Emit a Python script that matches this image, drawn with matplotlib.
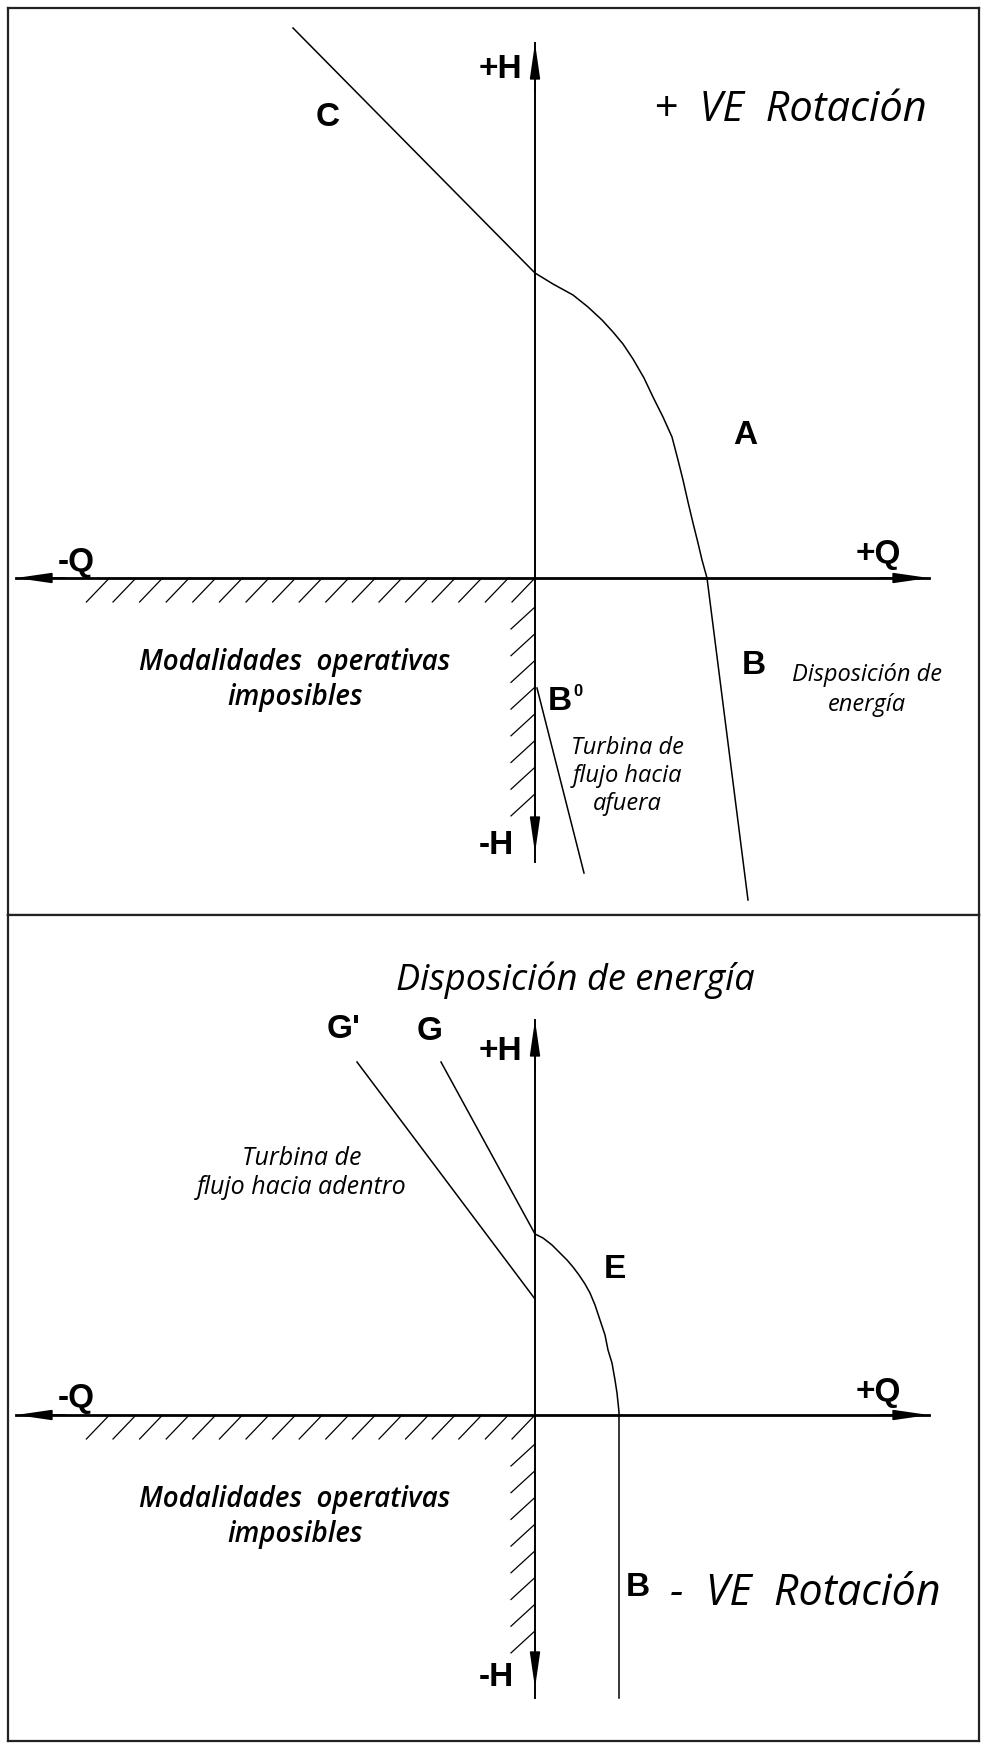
import numpy as np
import matplotlib
matplotlib.use('Agg')
import matplotlib.pyplot as plt

# Characteristic curves, in (Q, H) units with the origin at the axes crossing
# top panel: curve C - A - B (positive rotation)
top_q = [-2.42, 0.00, 0.18, 0.38, 0.53, 0.67, 0.78, 0.88, 0.98, 1.09, 1.18, 1.28, 1.37,
         1.43, 1.48, 1.53, 1.58, 1.63, 1.67, 1.72, 2.13]
top_h = [5.50, 3.05, 2.94, 2.83, 2.71, 2.58, 2.46, 2.34, 2.19, 2.00, 1.81, 1.61, 1.41,
         1.18, 0.98, 0.76, 0.55, 0.35, 0.18, 0.00, -3.22]
# top panel: outward flow turbine line from B0
b0_q = [0.02, 0.49]
b0_h = [-1.10, -2.95]

# bottom panel: curve G - E - B (negative rotation)
bot_q = [-0.94, 0.00, 0.08, 0.17, 0.25, 0.32, 0.38, 0.44, 0.50, 0.55, 0.60, 0.65, 0.70,
         0.73, 0.77, 0.80, 0.82, 0.84, 0.84]
bot_h = [3.53, 1.81, 1.77, 1.70, 1.62, 1.55, 1.48, 1.40, 1.31, 1.22, 1.10, 0.95, 0.80,
         0.65, 0.52, 0.35, 0.22, 0.03, -2.83]
# bottom panel: inward flow turbine line G'
gp_q = [-1.78, 0.00]
gp_h = [3.53, 1.16]

W, HP = 982, 1743
fig = plt.figure(figsize=(W / 100, HP / 100), dpi=100)

BOLD = dict(family=['Liberation Sans', 'DejaVu Sans'], fontweight='bold', fontsize=24)
ITAL = dict(family=['Open Sans', 'DejaVu Sans'], style='italic')


def make_panel(top_px, bot_px, origin_y):
    ax = fig.add_axes([7.5 / W, 1 - bot_px / HP, (979 - 7.5) / W, (bot_px - top_px) / HP])
    ax.set_xlim((7.5 - 535) / 100, (979 - 535) / 100)
    ax.set_ylim((origin_y - bot_px) / 100, (origin_y - top_px) / 100)
    ax.set_xticks([])
    ax.set_yticks([])
    for s in ax.spines.values():
        s.set_linewidth(1.6)
        s.set_color('#222222')
    return ax


def arrow(ax, tip, tail):
    ax.annotate('', xy=tip, xytext=tail,
                arrowprops=dict(arrowstyle='-|>,head_length=0.9,head_width=0.13',
                                mutation_scale=24, color='black', lw=1.2,
                                shrinkA=0, shrinkB=0))


def axes_cross(ax, h_top, h_bot, h_tip_bot):
    # Q axis
    ax.plot([-5.19, 3.94], [0, 0], color='black', lw=2)
    arrow(ax, (-5.19, 0), (-4.7, 0))
    arrow(ax, (3.94, 0), (3.45, 0))
    # H axis
    ax.plot([0, 0], [h_bot, h_top], color='black', lw=1.4)
    arrow(ax, (0, h_top), (0, h_top - 0.5))
    arrow(ax, (0, h_tip_bot), (0, h_tip_bot + 0.5))
    # hatching: impossible operating modes
    for k in range(17):
        x0 = -k * 0.266
        ax.plot([x0, x0 - 0.23], [0, -0.24], color='black', lw=0.9)
    for k in range(8):
        y0 = -0.29 - k * 0.267
        ax.plot([0, -0.24], [y0, y0 - 0.22], color='black', lw=0.9)
    ax.text(-4.59, 0.16, '-Q', ha='center', va='center', **BOLD)
    ax.text(3.43, 0.23, '+Q', ha='center', va='center', **BOLD)
    ax.text(-2.40, -1.02, 'Modalidades  operativas\nimposibles', ha='center', va='center',
            fontsize=20, fontweight='semibold', linespacing=1.3, **ITAL)


# ---- top panel ---------------------------------------------------------------
ax1 = make_panel(7.5, 915, 578)
axes_cross(ax1, 5.35, -2.84, -2.75)
ax1.plot(top_q, top_h, color='black', lw=1.1)
ax1.plot(b0_q, b0_h, color='black', lw=1.1)
ax1.text(-0.35, 5.08, '+H', ha='center', va='center', **BOLD)
ax1.text(-0.39, -2.68, '-H', ha='center', va='center', **BOLD)
ax1.text(-2.07, 4.61, 'C', ha='center', va='center', **BOLD)
ax1.text(2.10, 1.42, 'A', ha='center', va='center', **BOLD)
ax1.text(2.19, -0.88, 'B', ha='center', va='center', **BOLD)
ax1.text(0.13, -1.23, 'B', ha='left', va='center', **BOLD)
ax1.text(0.43, -1.13, '0', ha='center', va='center',
         family=['Liberation Sans', 'DejaVu Sans'], fontweight='bold', fontsize=12)
ax1.text(1.19, 4.57, '+  VE  Rotación', ha='left', va='baseline', fontsize=30, **ITAL)
ax1.text(0.92, -1.98, 'Turbina de\nflujo hacia\nafuera', ha='center', va='center',
         fontsize=17, linespacing=1.2, **ITAL)
ax1.text(3.32, -1.12, 'Disposición de\nenergía', ha='center', va='center',
         fontsize=17, linespacing=1.3, **ITAL)

# ---- bottom panel ------------------------------------------------------------
ax2 = make_panel(915, 1741, 1415)
axes_cross(ax2, 3.95, -2.83, -2.73)
ax2.plot(bot_q, bot_h, color='black', lw=1.1)
ax2.plot(gp_q, gp_h, color='black', lw=1.1)
ax2.text(0.40, 4.35, 'Disposición de energía', ha='center', va='center', fontsize=26, **ITAL)
ax2.text(-1.91, 3.85, "G'", ha='center', va='center', **BOLD)
ax2.text(-1.05, 3.84, 'G', ha='center', va='center', **BOLD)
ax2.text(-0.35, 3.64, '+H', ha='center', va='center', **BOLD)
ax2.text(-0.39, -2.62, '-H', ha='center', va='center', **BOLD)
ax2.text(0.80, 1.46, 'E', ha='center', va='center', **BOLD)
ax2.text(1.03, -1.73, 'B', ha='center', va='center', **BOLD)
ax2.text(-2.33, 2.42, 'Turbina de\nflujo hacia adentro', ha='center', va='center',
         fontsize=18, linespacing=1.2, **ITAL)
ax2.text(1.35, -1.90, '-  VE  Rotación', ha='left', va='baseline', fontsize=31, **ITAL)

fig.savefig('out.png', dpi=100)
